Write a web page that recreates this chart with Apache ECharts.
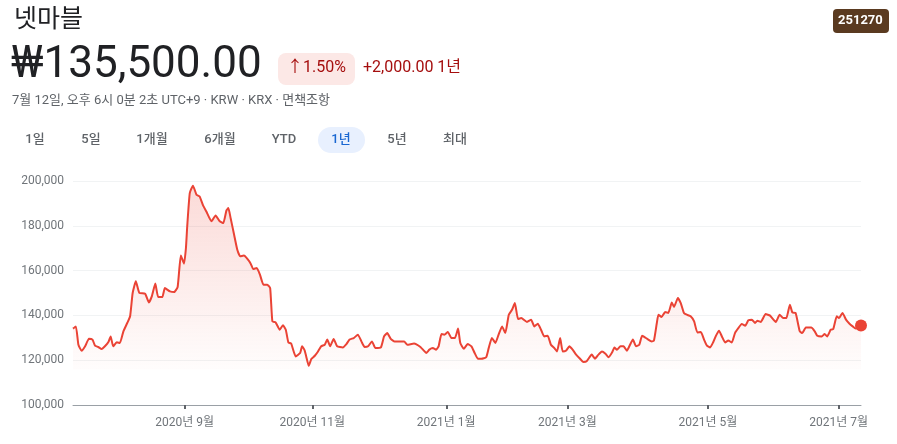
<!DOCTYPE html>
<html>
<head>
    <meta charset="utf-8">
    <title>넷마블 1년</title>
    <script src="https://cdn.jsdelivr.net/npm/echarts@6/dist/echarts.min.js"></script>
    <style>
        html, body { margin: 0; padding: 0; background: #fff; }
        #chart { width: 897px; height: 444px; }
    </style>
</head>
<body>
    <div id="chart"></div>

    <script>
    // trading-day position (0 = 2020-07-13, 247 = 2021-07-12) and closing price
    const dayIdx = [
        0, 0.9, 1.7, 2.7, 3.8, 5.0, 6.1, 6.9, 7.9, 9.0, 10.0, 11.1, 11.8, 12.6, 13.7, 14.7, 15.8, 17.0, 17.9, 18.7,
        19.7, 20.8, 22.6, 23.8, 24.7, 25.8, 26.7, 28.0, 28.8, 30.4, 31.7, 32.8, 33.8, 34.8, 35.4, 35.8, 36.6, 37.6, 38.7, 39.7,
        40.8, 41.8, 43.4, 44.7, 46.0, 47.1, 48.1, 48.7, 49.4, 50.5, 51.5, 52.4, 53.6, 54.6, 55.7, 56.5, 57.6, 58.6, 59.7, 60.9,
        61.8, 62.5, 63.5, 64.8, 65.8, 66.7, 67.5, 68.4, 69.8, 71.2, 71.8, 72.6, 73.1, 73.9, 74.7, 75.8, 76.8, 77.8, 78.9, 79.7,
        80.6, 81.7, 82.8, 84.6, 85.7, 86.7, 88.0, 89.3, 90.4, 91.4, 92.5, 93.7, 94.8, 96.5, 97.5, 98.5, 99.6, 100.8, 102.4, 103.8,
        104.8, 106.9, 107.5, 108.9, 109.9, 110.7, 111.7, 112.8, 113.8, 114.6, 115.5, 116.4, 117.5, 118.6, 119.7, 120.7, 121.4, 122.5, 123.7, 124.9,
        125.9, 126.9, 128.0, 129.5, 130.3, 131.3, 132.4, 133.4, 134.5, 135.5, 136.6, 137.6, 138.5, 139.5, 140.5, 142.3, 143.6, 144.6, 145.7, 146.7,
        147.7, 148.8, 149.8, 150.9, 151.7, 152.7, 153.5, 154.5, 155.6, 156.6, 157.7, 158.7, 160.0, 161.0, 162.6, 163.6, 164.7, 165.8, 166.9, 167.9,
        169.0, 169.7, 170.5, 171.6, 172.6, 173.6, 174.6, 175.5, 176.5, 177.5, 178.4, 180.0, 181.4, 182.1, 183.0, 183.5, 184.5, 185.6, 186.6, 187.7,
        188.4, 189.6, 190.5, 191.5, 192.4, 193.6, 194.7, 195.7, 196.8, 197.8, 198.7, 199.7, 200.7, 201.6, 202.5, 203.4, 204.4, 205.4, 206.5, 207.5,
        208.6, 209.6, 210.7, 211.7, 212.8, 213.8, 214.5, 215.6, 217.1, 218.5, 220.3, 221.5, 222.6, 223.6, 224.7, 225.5, 226.5, 227.8, 228.6, 229.7,
        231.4, 232.5, 233.3, 234.7, 235.6, 236.4, 237.5, 238.3, 239.4, 240.1, 241.2, 242.3, 243.4, 244.4, 245.3, 247
    ];
    const price = [
        134100, 135100, 126900, 124200, 126200, 129600, 129200, 126500, 125900, 125000, 126200, 128100, 130600, 126200, 128000, 127700, 132900, 136600, 139600, 150000,
        155200, 150000, 149700, 145800, 148500, 154200, 148200, 148200, 152200, 150700, 150400, 152700, 166700, 163100, 170100, 179700, 194600, 197900, 193900, 193100,
        189000, 186400, 182000, 184600, 182000, 181200, 186900, 187900, 183500, 176000, 169300, 166400, 166700, 165300, 163100, 160700, 161200, 158200, 153700, 153700,
        152200, 137300, 136900, 133600, 135600, 133600, 128000, 127400, 121700, 123200, 126200, 124400, 121700, 117500, 120500, 122000, 123900, 126200, 126900, 129200,
        126200, 129500, 126200, 125700, 127200, 129200, 129900, 131400, 128400, 125900, 126200, 128400, 125400, 125700, 130600, 132100, 129500, 128400, 128400, 128400,
        126900, 127400, 127200, 125900, 124400, 123200, 124700, 125400, 124700, 126200, 131700, 131400, 132600, 129900, 129900, 134100, 127700, 125100, 127200, 126200,
        123200, 120700, 120700, 121300, 125400, 129900, 127700, 131400, 135100, 132100, 140300, 142500, 145500, 138400, 138800, 137100, 138100, 135100, 136300, 133600,
        130600, 130900, 126900, 125400, 123900, 129900, 123900, 124200, 126200, 124700, 122500, 121000, 119200, 119500, 122500, 120700, 122500, 123900, 122900, 121300,
        123500, 125700, 124700, 126200, 126200, 124200, 126900, 129200, 126200, 126900, 130900, 129500, 128400, 128800, 136600, 140300, 139300, 141500, 141100, 145800,
        143800, 147800, 145500, 141100, 140300, 139600, 137300, 132400, 132600, 129200, 126500, 125700, 128100, 131100, 133200, 130600, 127900, 128800, 127900, 132100,
        134400, 136200, 135400, 137800, 138100, 136600, 137600, 137100, 140600, 139900, 137100, 140300, 138800, 138800, 144800, 141300, 141100, 132900, 132100, 134600,
        134600, 132900, 130900, 130600, 131700, 130600, 133600, 133900, 139600, 138800, 141100, 138100, 136300, 135100, 134100, 135500
    ];

    // first trading day of each labelled month
    const tickIdx = [35, 75, 117, 155, 199, 240];
    const tickLabels = ['2020년 9월', '2020년 11월', '2021년 1월', '2021년 3월', '2021년 5월', '2021년 7월'];

    const rangeButtons = ['1일', '5일', '1개월', '6개월', 'YTD', '1년', '5년', '최대'];
    const rangeX = [35, 91, 152, 220, 284, 341, 397, 455];

    const FONT = 'Roboto, "Noto Sans CJK KR", sans-serif';
    const RED = '#ea4335';

    const series = dayIdx.map((d, i) => [d, price[i]]);
    const last = series[series.length - 1];

    const header = [
        { type: 'text', left: 14, top: 8, style: { text: '넷마블', font: '25px ' + FONT, fill: '#202124' } },
        { type: 'rect', left: 833, top: 9, shape: { width: 56, height: 24, r: 4 }, style: { fill: '#5a3a20' } },
        { type: 'text', left: 838, top: 14, style: { text: '251270', font: 'bold 13px ' + FONT, fill: '#fff' } },
        { type: 'text', left: 11, top: 44, style: { text: '₩135,500.00', font: '44px ' + FONT, fill: '#202124' } },
        { type: 'rect', left: 278, top: 53, shape: { width: 77, height: 32, r: 8 }, style: { fill: '#fce8e6' } },
        { type: 'text', left: 287, top: 60, style: { text: '↑1.50%', font: '16px ' + FONT, fill: '#a50e0e' } },
        { type: 'text', left: 363, top: 60, style: { text: '+2,000.00 1년', font: '16px ' + FONT, fill: '#a50e0e' } },
        { type: 'text', left: 12, top: 94, style: { text: '7월 12일, 오후 6시 0분 2초 UTC+9 · KRW · KRX · 면책조항', font: '13px ' + FONT, fill: '#5f6368' } },
        { type: 'rect', left: 318, top: 127, shape: { width: 47, height: 26, r: 13 }, style: { fill: '#e8f0fe' } }
    ];
    rangeButtons.forEach((t, i) => {
        header.push({
            type: 'text', x: rangeX[i], y: 140,
            style: {
                text: t, font: '500 13px ' + FONT, align: 'center', verticalAlign: 'middle',
                fill: t === '1년' ? '#1967d2' : '#5f6368'
            }
        });
    });

    const chart = echarts.init(document.getElementById('chart'));
    chart.setOption({
        animation: false,
        textStyle: { fontFamily: FONT },
        graphic: header,
        grid: { left: 73, right: 36, top: 181, bottom: 39 },
        xAxis: {
            type: 'value',
            min: 0,
            max: 247,
            splitLine: { show: false },
            axisLine: { lineStyle: { color: '#9aa0a6', width: 1 } },
            axisTick: { show: true, customValues: tickIdx, length: 4, lineStyle: { color: '#5f6368', width: 2 } },
            axisLabel: {
                customValues: tickIdx,
                margin: 12,
                color: '#70757a',
                fontSize: 12,
                formatter: v => tickLabels[tickIdx.indexOf(v)]
            }
        },
        yAxis: {
            type: 'value',
            min: 100000,
            max: 200000,
            interval: 20000,
            axisLine: { show: false },
            axisTick: { show: false },
            splitLine: { lineStyle: { color: '#f1f3f4', width: 1 } },
            axisLabel: {
                margin: 9,
                color: '#70757a',
                fontSize: 12,
                formatter: v => v.toLocaleString('en-US')
            }
        },
        series: [
            {
                type: 'line',
                data: series,
                showSymbol: false,
                smooth: 0.15,
                lineStyle: { color: RED, width: 2 },
                areaStyle: {
                    origin: 116000,
                    color: new echarts.graphic.LinearGradient(0, 0, 0, 1, [
                        { offset: 0, color: 'rgba(234,67,53,0.28)' },
                        { offset: 1, color: 'rgba(234,67,53,0.02)' }
                    ])
                },
                z: 2
            },
            {
                type: 'scatter',
                data: [last],
                symbolSize: 12,
                itemStyle: { color: RED, opacity: 1 },
                z: 3
            }
        ]
    });
    </script>
</body>
</html>
